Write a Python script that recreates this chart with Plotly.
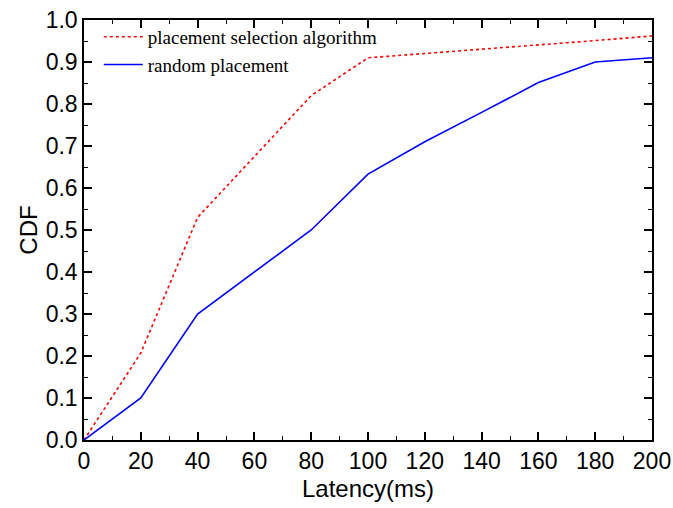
import plotly.graph_objects as go

latency = [0, 20, 40, 60, 80, 100, 120, 140, 160, 180, 200]
cdf_selection = [0.0, 0.207, 0.53, 0.675, 0.82, 0.91, 0.92, 0.93, 0.94, 0.951, 0.962]
cdf_random = [0.0, 0.1, 0.3, 0.4, 0.5, 0.633, 0.71, 0.78, 0.851, 0.90, 0.91]

fig = go.Figure()
fig.add_trace(
    go.Scatter(
        x=latency,
        y=cdf_selection,
        mode="lines",
        name="placement selection algorithm",
        line=dict(color="#ff0000", width=1.6, dash="3px,3px"),
    )
)
fig.add_trace(
    go.Scatter(
        x=latency,
        y=cdf_random,
        mode="lines",
        name="random placement",
        line=dict(color="#0000ff", width=1.6),
    )
)

tick_font = dict(family="Liberation Sans, Arial", size=23, color="black")
title_font = dict(family="Liberation Sans, Arial", size=24, color="black")

axis_style = dict(
    showline=True,
    linecolor="black",
    linewidth=1.5,
    mirror="allticks",
    ticks="inside",
    ticklen=8,
    tickwidth=1.5,
    tickcolor="black",
    showgrid=False,
    zeroline=False,
    automargin=False,
    ticklabeloverflow="allow",
    tickfont=tick_font,
)

fig.update_xaxes(
    range=[0, 200],
    dtick=20,
    minor=dict(dtick=10, ticks="inside", ticklen=4, tickwidth=1.2, tickcolor="black"),
    title=dict(text="Latency(ms)", font=title_font, standoff=7),
    **axis_style,
)
fig.update_yaxes(
    range=[0, 1],
    dtick=0.1,
    tickformat=".1f",
    minor=dict(dtick=0.05, ticks="inside", ticklen=4, tickwidth=1.2, tickcolor="black"),
    title=dict(text="CDF", font=title_font, standoff=1),
    **axis_style,
)

fig.update_layout(
    width=673,
    height=508,
    template="simple_white",
    plot_bgcolor="white",
    paper_bgcolor="white",
    margin=dict(l=84, r=21, t=20, b=68),
    legend=dict(
        x=0.026,
        y=1.005,
        xanchor="left",
        yanchor="top",
        bgcolor="rgba(0,0,0,0)",
        itemwidth=39,
        font=dict(family="Liberation Serif, Times New Roman", size=19, color="black"),
        tracegroupgap=0,
    ),
)

# drop the default 8px page margin so the figure fills the window
fig.write_html(
    "out.html",
    config={"displayModeBar": False},
    post_script="document.body.style.margin='0';document.body.style.overflow='hidden';",
)
